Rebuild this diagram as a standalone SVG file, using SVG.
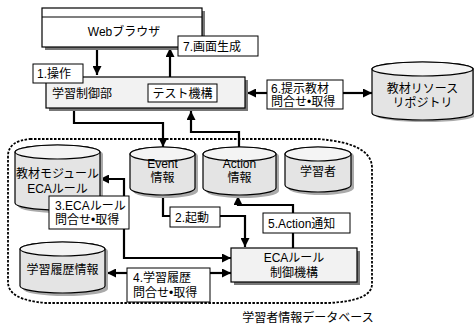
<svg xmlns="http://www.w3.org/2000/svg" width="474" height="326" viewBox="0 0 474 326">
<defs>
<marker id="ah" viewBox="0 0 10 10" refX="10" refY="5" markerWidth="10" markerHeight="9" markerUnits="userSpaceOnUse" orient="auto">
<path d="M0,0 L10,5 L0,10 Z" fill="#000"/>
</marker>
</defs>
<style>
text{font-family:"Liberation Sans","Noto Sans CJK JP",sans-serif;font-size:12px;fill:#000}
.c{text-anchor:middle}
.box{fill:#f2f2f2;stroke:#000;stroke-width:1.2}
.sh{fill:#777}
.lbl{fill:#fff;stroke:#000;stroke-width:1}
.cyl{fill:#e4e4e4;stroke:#000;stroke-width:1.2}
.top{fill:#f4f4f4;stroke:#000;stroke-width:1.2}
.csh{fill:#aaa}
.ln{fill:none;stroke:#000;stroke-width:2.2}
.db{fill:none;stroke:#000;stroke-width:1.8;stroke-dasharray:2.5 1.5}
</style>
<rect width="474" height="326" fill="#fff"/>

<path id="dbregion" class="db" d="M30,139 L318,139 Q372,143 372,168 L372,284 Q372,301 328,303 L46,303 Q8,300 8,282 L8,156 Q8,141 30,139 Z"/>
<text x="308" y="322" class="c">学習者情報データベース</text>

<g id="connectors">
<path class="ln" d="M97,48 V75" marker-end="url(#ah)"/>
<path class="ln" d="M170,77 V48" marker-end="url(#ah)"/>
<path class="ln" d="M267,93 H247" marker-end="url(#ah)"/>
<path class="ln" d="M343,93 H372" marker-end="url(#ah)"/>
<path class="ln" d="M74,109 V123 H163 V147" marker-end="url(#ah)"/>
<path class="ln" d="M239,147 V132 H191 V111" marker-end="url(#ah)"/>
<path class="ln" d="M124,214 V179 H100" marker-end="url(#ah)"/>
<path class="ln" d="M124,228 V258 H231" marker-end="url(#ah)"/>
<path class="ln" d="M163,193 V216 H245 V247" marker-end="url(#ah)"/>
<path class="ln" d="M293,248 V205 H238 V196" marker-end="url(#ah)"/>
<path class="ln" d="M127,273 H107" marker-end="url(#ah)"/>
<path class="ln" d="M210,273 H231" marker-end="url(#ah)"/>
</g>

<g id="browser">
<rect class="sh" x="45" y="11" width="160" height="39"/>
<rect class="box" x="42" y="8" width="160" height="39" style="fill:#fff"/>
<line x1="42" y1="17" x2="202" y2="17" stroke="#000" stroke-width="1.2"/>
<text x="124" y="36" class="c">Webブラウザ</text>
</g>

<g id="gakushu">
<rect class="sh" x="49" y="80" width="199" height="31"/>
<rect class="box" x="46" y="77" width="199" height="31"/>
<text x="52" y="98">学習制御部</text>
</g>
<g id="test">
<rect class="lbl" x="148" y="84" width="69" height="18"/>
<text x="182.5" y="98" class="c">テスト機構</text>
</g>

<g id="l1">
<rect class="lbl" x="33" y="64" width="50" height="19"/>
<text x="37" y="78">1.操作</text>
</g>
<g id="l7">
<rect class="lbl" x="178" y="36" width="80" height="20"/>
<text x="183" y="51">7.画面生成</text>
</g>
<g id="l6">
<rect class="lbl" x="267" y="80" width="76" height="29"/>
<text x="271" y="93">6.提示教材</text>
<text x="271" y="106">問合せ•取得</text>
</g>

<g id="repo">
<path class="csh" d="M375,70 A50,7 0 0 1 476,70 V115 A50,7 0 0 1 375,115 Z"/>
<path class="cyl" d="M372,69 A50.5,7 0 0 1 473,69 V113 A50.5,7 0 0 1 372,113 Z"/>
<ellipse class="top" cx="422.5" cy="69" rx="50.5" ry="7"/>
<text x="422.5" y="93" class="c">教材リソース</text>
<text x="422.5" y="107" class="c">リポジトリ</text>
</g>

<g id="module">
<path class="csh" d="M18,154 A42.5,7 0 0 1 103,154 V206 A42.5,7 0 0 1 18,206 Z"/>
<path class="cyl" d="M15,152 A42.5,7 0 0 1 100,152 V203 A42.5,7 0 0 1 15,203 Z"/>
<ellipse class="top" cx="57.5" cy="152" rx="42.5" ry="7"/>
<text x="57.5" y="178" class="c">教材モジュール</text>
<text x="57.5" y="193" class="c">ECAルール</text>
</g>

<g id="event">
<path class="csh" d="M133,156 A32.5,7 0 0 1 198,156 V191 A32.5,7 0 0 1 133,191 Z"/>
<path class="cyl" d="M130,154 A32.5,7 0 0 1 195,154 V188 A32.5,7 0 0 1 130,188 Z"/>
<ellipse class="top" cx="162.5" cy="154" rx="32.5" ry="7"/>
<text x="162.5" y="168" class="c">Event</text>
<text x="162.5" y="182" class="c">情報</text>
</g>

<g id="action">
<path class="csh" d="M206,156 A36.5,7 0 0 1 279,156 V191 A36.5,7 0 0 1 206,191 Z"/>
<path class="cyl" d="M203,154 A36.5,7 0 0 1 276,154 V188 A36.5,7 0 0 1 203,188 Z"/>
<ellipse class="top" cx="239.5" cy="154" rx="36.5" ry="7"/>
<text x="239.5" y="168" class="c">Action</text>
<text x="239.5" y="182" class="c">情報</text>
</g>

<g id="learner">
<path class="csh" d="M288,156 A33,7 0 0 1 354,156 V188 A33,7 0 0 1 288,188 Z"/>
<path class="cyl" d="M285,154 A33,7 0 0 1 351,154 V185 A33,7 0 0 1 285,185 Z"/>
<ellipse class="top" cx="318" cy="154" rx="33" ry="7"/>
<text x="318" y="176" class="c">学習者</text>
</g>

<g id="history">
<path class="csh" d="M23,251 A42.5,7 0 0 1 108,251 V289 A42.5,7 0 0 1 23,289 Z"/>
<path class="cyl" d="M20,249 A42.5,7 0 0 1 105,249 V286 A42.5,7 0 0 1 20,286 Z"/>
<ellipse class="top" cx="62.5" cy="249" rx="42.5" ry="7"/>
<text x="62.5" y="274" class="c">学習履歴情報</text>
</g>

<g id="eca">
<rect class="sh" x="234" y="251" width="126" height="34"/>
<rect class="box" x="231" y="248" width="126" height="34"/>
<text x="294" y="262" class="c">ECAルール</text>
<text x="294" y="277" class="c">制御機構</text>
</g>

<g id="l3">
<rect class="lbl" x="49" y="196" width="80" height="33"/>
<text x="55" y="210">3.ECAルール</text>
<text x="55" y="224">問合せ•取得</text>
</g>
<g id="l2">
<rect class="lbl" x="170" y="207" width="50" height="20"/>
<text x="175" y="222">2.起動</text>
</g>
<g id="l5">
<rect class="lbl" x="263" y="213" width="87" height="20"/>
<text x="268" y="228">5.Action通知</text>
</g>
<g id="l4">
<rect class="lbl" x="127" y="268" width="83" height="34"/>
<text x="133" y="282">4.学習履歴</text>
<text x="133" y="297">問合せ•取得</text>
</g>
</svg>
